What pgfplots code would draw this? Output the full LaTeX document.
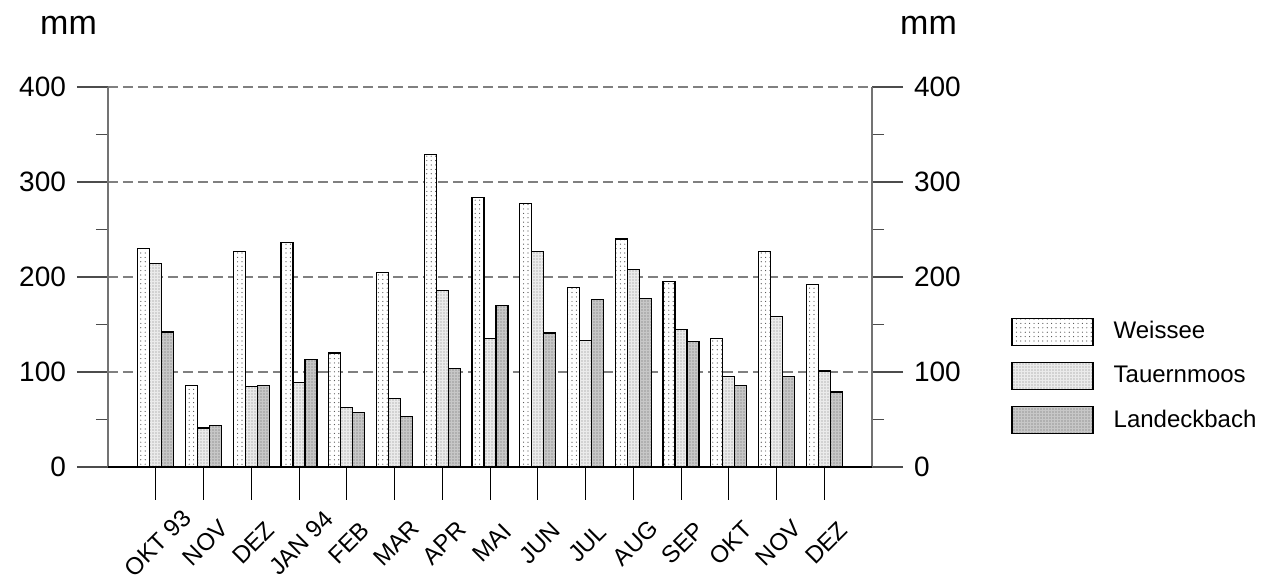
\documentclass[border=0pt]{standalone}
\usepackage{pgfplots}
\pgfplotsset{compat=1.18}
\usetikzlibrary{patterns.meta}
\usepackage{fontspec}
\setmainfont{Liberation Sans}
\pgfplotstableread{
x W T L
0 230 214 142
1 86 41 44
2 227 85 86
3 236 89 113
4 120 63 57
5 205 72 53
6 329 186 104
7 284 135 170
8 277 227 141
9 189 133 176
10 240 208 177
11 195 145 132
12 135 95 86
13 227 158 95
14 192 101 79
}\datatable
\pgfplotsset{
  common/.style={
    at={(54pt,58pt)}, anchor=south west,
    scale only axis, width=382pt, height=190pt,
    xmin=-1, xmax=15, ymin=0, ymax=400,
  },
  yside/.style={
    common,
    axis x line=none,
    ytick={0,100,200,300,400},
    minor ytick={50,150,250,350},
    tick align=outside,
    major tick length=15.5pt, minor tick length=6pt,
    y axis line style={-, draw=black!55, line width=0.8pt},
    ytick style={black!70, line width=0.6pt},
    minor tick style={black!70, line width=0.6pt},
    yticklabel style={font=\fontsize{14}{14}\selectfont},
    /pgf/number format/assume math mode=true,
  },
}
\begin{document}
\begin{tikzpicture}
\path[use as bounding box] (0,0) rectangle (637.5pt,291.5pt);
% left axis with grid
\begin{axis}[yside, axis y line*=left,
  ymajorgrids, major grid style={dash pattern=on 5pt off 2.5pt, draw=black!50, line width=0.9pt},
  yticklabel style={xshift=-2pt},
  clip=false]
  \addplot[draw=none] coordinates {(0,0)};
  \node[font=\fontsize{17}{17}\selectfont] at (axis description cs:-0.0517,1.163) {mm};
\end{axis}
% right axis
\begin{axis}[yside, axis y line*=right, yticklabel style={xshift=2pt}, clip=false]
  \addplot[draw=none] coordinates {(0,0)};
  \node[font=\fontsize{17}{17}\selectfont] at (axis description cs:1.074,1.163) {mm};
\end{axis}
% bars
\begin{axis}[common,
  axis x line*=bottom, axis y line=none,
  ybar=0pt, bar width=0.25,
  xtick={0,...,14},
  xticklabels={OKT 93,NOV,DEZ,JAN 94,FEB,MAR,APR,MAI,JUN,JUL,AUG,SEP,OKT,NOV,DEZ},
  tick align=outside, major tick length=16.5pt,
  xtick style={black, line width=0.5pt},
  x axis line style={-, black, line width=0.8pt},
  xticklabel style={yshift=-21.5pt, xshift=1pt, rotate=45, anchor=center, font=\fontsize{12}{12}\selectfont},
  legend image code/.code={\draw[#1] (0pt,-6.75pt) rectangle (40.5pt,6.75pt);},
  legend style={at={(axis description cs:1.182,0.2395)}, anchor=west, draw=none, fill=none,
    inner sep=0pt, row sep=8pt, font=\fontsize{12}{12}\selectfont,
    /tikz/every odd column/.style={column sep=8pt}},
  legend cell align=left,
  clip=false]
  \addplot[draw=black, line width=0.6pt, fill=white,
    postaction={pattern={Dots[distance=2.2pt, radius=0.3pt]}, pattern color=black!70}]
    table[x=x,y=W]{\datatable};
  \addplot[draw=black, line width=0.6pt, fill=black!8,
    postaction={pattern={Dots[distance=1.5pt, radius=0.3pt]}, pattern color=black!50}]
    table[x=x,y=T]{\datatable};
  \addplot[draw=black, line width=0.6pt, fill=black!22,
    postaction={pattern={Dots[distance=1.5pt, radius=0.3pt]}, pattern color=black!60}]
    table[x=x,y=L]{\datatable};
  \legend{Weissee,Tauernmoos,Landeckbach}
\end{axis}
\end{tikzpicture}
\end{document}
